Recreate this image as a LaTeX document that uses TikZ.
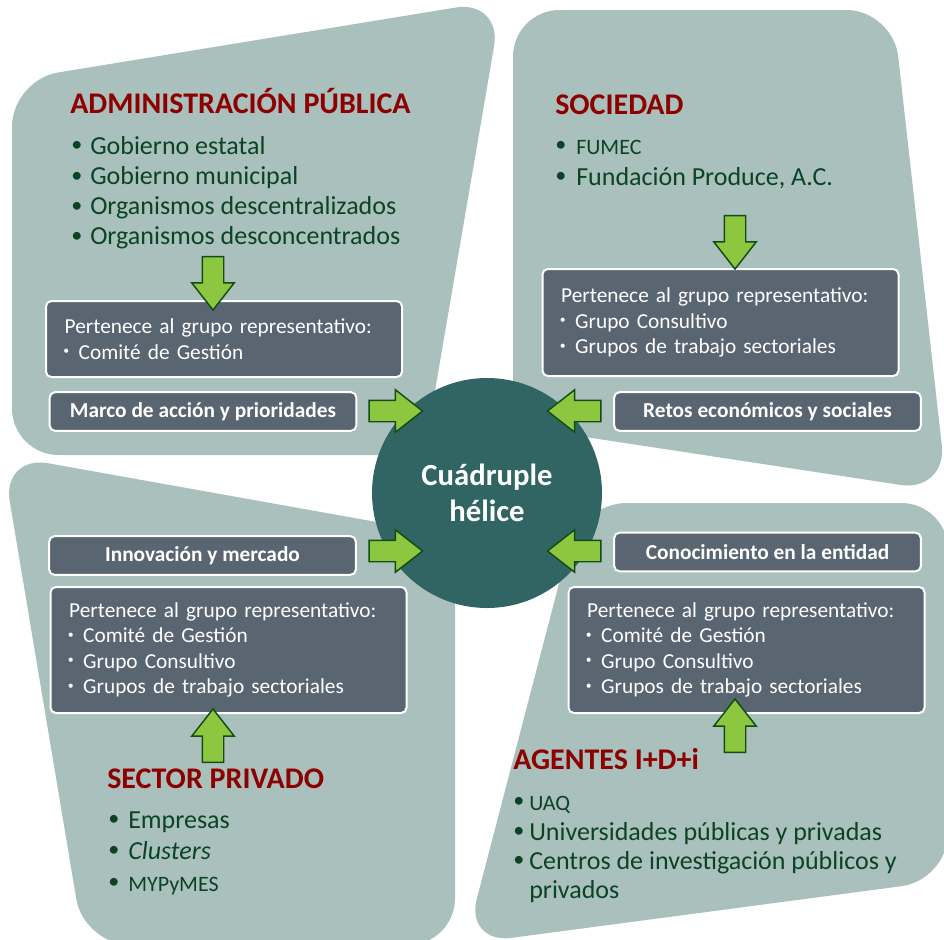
\documentclass[tikz,border=0pt]{standalone}
\usepackage{fontspec}
\usepackage{graphicx}
\setmainfont{Carlito}
\usetikzlibrary{shapes.arrows}
\definecolor{sage}{RGB}{170,192,189}
\definecolor{helix}{RGB}{48,101,99}
\definecolor{slatebox}{RGB}{90,101,114}
\definecolor{titred}{RGB}{140,0,0}
\definecolor{itemgreen}{RGB}{10,68,36}
\definecolor{arrowfill}{RGB}{141,198,63}
\definecolor{arrowline}{RGB}{16,78,22}
\newcommand{\bul}[1][11.25pt]{\makebox[#1][l]{\hspace*{-3pt}\raisebox{0.08em}{\scalebox{0.85}{\textbullet}}}}
\newcommand{\sbul}{\makebox[10.5pt][l]{\hspace*{-1pt}\raisebox{0.2em}{\scalebox{0.55}{\textbullet}}}}
\newcommand{\smc}[1]{{\fontsize{16.5}{20}\selectfont #1}}

\begin{document}
\begin{tikzpicture}[x=0.75pt, y=-0.75pt,
  quad/.style={fill=sage, rounded corners=35pt},
  grp/.style={draw=white, line width=1.5pt, fill=slatebox, rounded corners=4pt, text=white,
    font=\fontsize{16}{19}\selectfont, align=left, inner xsep=14pt, text width=239pt, minimum width=267pt},
  lbl/.style={draw=white, line width=1.5pt, fill=slatebox, rounded corners=4pt, text=white,
    font=\fontsize{16}{19}\selectfont\bfseries, minimum width=230pt, minimum height=29pt},
  ttl/.style={anchor=base west, inner sep=0, text=titred, font=\fontsize{22.5}{27}\selectfont\bfseries},
  itm/.style={anchor=base west, inner sep=0, text=itemgreen, font=\fontsize{19.5}{23}\selectfont},
  blk/.style={single arrow, fill=arrowfill, draw=arrowline, line width=1.1pt, minimum height=40pt,
    minimum width=31pt, single arrow head extend=7.9pt, single arrow tip angle=76,
    inner xsep=0pt, inner ysep=7.5pt}]
\useasboundingbox (0,0) rectangle (944,939);

% four sectors
\fill[quad] (200,455) -- (12,455) -- (12,80) -- (502,0) -- (424,455) -- cycle;
\fill[quad] (700,10) -- (893,10) -- (947,492) -- (513,426) -- (513,10) -- cycle;
\fill[quad] (250,945) -- (84,945) -- (2,455) -- (455,536) -- (455,945) -- cycle;
\fill[quad] (700,503) -- (948,503) -- (948,880) -- (465,944) -- (580,503) -- cycle;

\node[circle, fill=helix, minimum size=172.5pt, inner sep=0, text=white, align=center,
  font=\fontsize{23}{27}\selectfont\bfseries] (helice) at (487,493) {\raisebox{-2.25pt}{Cuádruple}\\\raisebox{-2.25pt}{hélice}};

\node[grp, minimum height=57pt] (apgrp) at (224,339) {Pertenece al grupo representativo:\\\sbul Comité de Gestión};
\node[lbl] (marco) at (203,411.5) {Marco de acción y prioridades};
\node[grp, minimum height=80.25pt] (socgrp) at (720.5,322.5) {Pertenece al grupo representativo:\\\sbul Grupo Consultivo\\\sbul Grupos de trabajo sectoriales};
\node[lbl] (retos) at (767.5,411.5) {Retos económicos y sociales};
\node[lbl] (innov) at (202.5,555.5) {Innovación y mercado};
\node[grp, minimum height=94.5pt] (spgrp) at (228.5,650) {Pertenece al grupo representativo:\\\sbul Comité de Gestión\\\sbul Grupo Consultivo\\\sbul Grupos de trabajo sectoriales};
\node[lbl] (conoc) at (767.5,552) {Conocimiento en la entidad};
\node[grp, minimum height=94.5pt] (aggrp) at (746.5,650) {Pertenece al grupo representativo:\\\sbul Comité de Gestión\\\sbul Grupo Consultivo\\\sbul Grupos de trabajo sectoriales};

% titles and members
\node[ttl] (apttl) at (70,113) {ADMINISTRACIÓN PÚBLICA};
\foreach \t [count=\i] in {Gobierno estatal, Gobierno municipal, Organismos descentralizados, Organismos desconcentrados}
  \node[itm] (ap\i) at (75,{154+30.3*(\i-1)}) {\bul\t};
\node[ttl] (socttl) at (555,114) {SOCIEDAD};
\node[itm] (soc1) at (559,154) {\bul[12.75pt]\smc{FUMEC}};
\node[itm] (soc2) at (559,185) {\bul[12.75pt]Fundación Produce, A.C.};
\node[ttl] (spttl) at (107,788) {SECTOR PRIVADO};
\node[itm] (sp1) at (112,828) {\bul[12pt]Empresas};
\node[itm] (sp2) at (112,859) {\bul[12pt]\textit{Clusters}};
\node[itm] (sp3) at (112,891) {\bul[12pt]\smc{MYPyMES}};
\node[ttl] (agttl) at (513,769) {AGENTES I+D+i};
\node[itm] (ag1) at (517,810) {\bul[9pt]\smc{UAQ}};
\node[itm] (ag2) at (517,840) {\bul[9pt]Universidades públicas y privadas};
\node[itm] (ag3) at (517,869) {\bul[9pt]Centros de investigación públicos y};
\node[itm] (ag4) at (529,898) {privados};

% block arrows
\node[blk, rotate=-90] (aparr) at (213,276.5) {};
\node[blk, rotate=-90] (socarr) at (735,235.5) {};
\node[blk] (marcoarr) at (389,411) {};
\node[blk, rotate=180] (retosarr) at (581,411) {};
\node[blk] (innovarr) at (389,551) {};
\node[blk, rotate=180] (conocarr) at (581,551) {};
\node[blk, rotate=90] (sparr) at (213,742.5) {};
\node[blk, rotate=90] (agarr) at (735,732.5) {};
\end{tikzpicture}
\end{document}
